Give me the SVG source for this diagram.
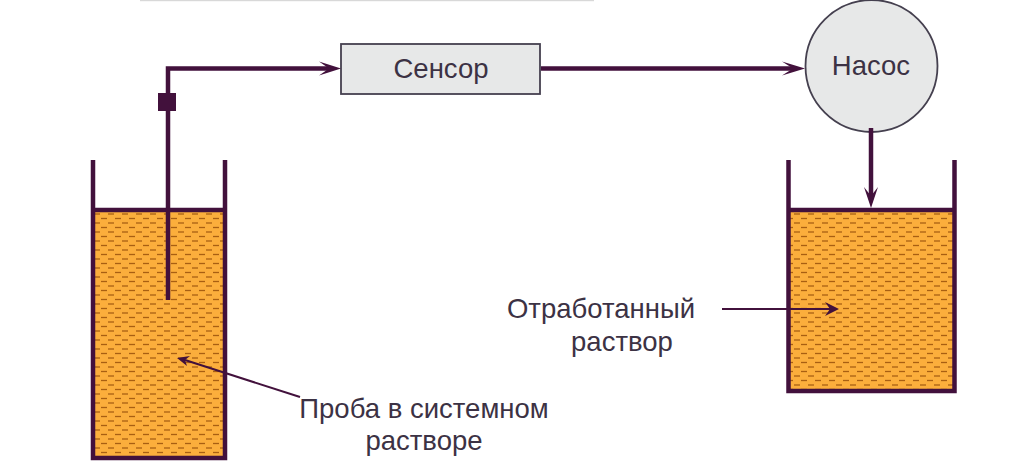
<svg xmlns="http://www.w3.org/2000/svg" width="1024" height="474" viewBox="0 0 1024 474">
<style>
.wall{fill:none;stroke:#42113c;stroke-width:4.500}
.liq{fill:url(#hatch);stroke:none}
.pipe{fill:none;stroke:#42113c;stroke-width:4.500}
.thin{fill:none;stroke:#42113c;stroke-width:2}
.box{fill:#e7e8e8;stroke:#45404f;stroke-width:1.800}
text{font-family:"Liberation Sans",Arial,sans-serif;font-size:27.500px;fill:#3c3244}
</style>
<defs>
<pattern id="hatch" patternUnits="userSpaceOnUse" x="93" y="212" width="14" height="9">
<rect width="14" height="9" fill="#fbae3c"/>
<path d="M1 2H7" stroke="#a85f12" stroke-width="1.300"/>
<path d="M8 6.500H14" stroke="#a85f12" stroke-width="1.300"/>
</pattern>
</defs>
<rect width="1024" height="474" fill="#fff"/>
<rect x="140" y="0" width="454" height="1.200" fill="#d8d8d8"/>
<g id="tank-left">
<rect class="liq" x="93" y="210" width="132" height="248"/>
<path class="wall" d="M93 160V458H225V160"/>
<path class="wall" d="M93 210H225"/>
</g>
<g id="tank-right">
<rect class="liq" x="789" y="210" width="165" height="181"/>
<path class="wall" d="M788.500 160V391H954.500V160"/>
<path class="wall" d="M788.500 210H954.500"/>
</g>
<g id="sensor">
<rect class="box" x="341" y="44" width="199" height="50"/>
<text x="441" y="78" text-anchor="middle">Сенсор</text>
</g>
<g id="pump">
<circle class="box" cx="871.500" cy="66" r="66"/>
<text x="871" y="75" text-anchor="middle">Насос</text>
</g>
<g id="connectors">
<path class="pipe" d="M168 300V68.500H330"/>
<path d="M341 68.500L319 61.500L329 68.500L319 75.500Z" fill="#42113c"/>
<rect x="158" y="93" width="18" height="18" fill="#42113c"/>
<path class="pipe" d="M541 68.500H795"/>
<path d="M805 68.500L782 61.500L793 68.500L782 75.500Z" fill="#42113c"/>
<path class="pipe" d="M871 128V198"/>
<path d="M871 208L864 187L871 196L878 187Z" fill="#42113c"/>
<path class="thin" d="M722 309H830"/>
<path d="M839 309L825 302L830 309L825 316Z" fill="#42113c"/>
<path class="thin" d="M300 397L185 360"/>
<path d="M177 358L190 356L185 360L187 366Z" fill="#42113c"/>
</g>
<g id="labels">
<text x="424" y="418" text-anchor="middle">Проба в системном</text>
<text x="424" y="450" text-anchor="middle">растворе</text>
<text x="601" y="318" text-anchor="middle">Отработанный</text>
<text x="622" y="351" text-anchor="middle">раствор</text>
</g>
</svg>
